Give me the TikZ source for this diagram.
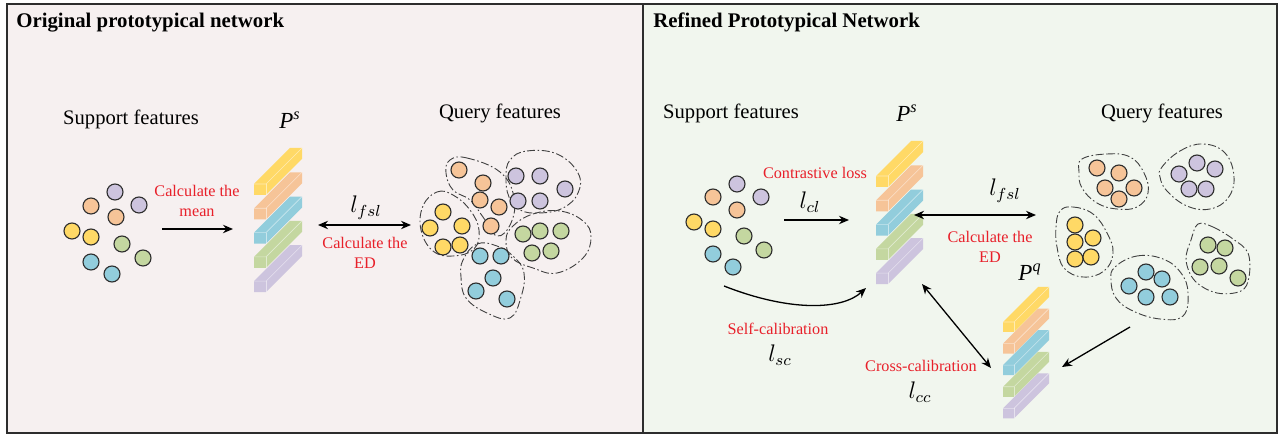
\documentclass[tikz,border=0pt]{standalone}
\usepackage{fontspec}
\setmainfont{Liberation Serif}
\usetikzlibrary{arrows.meta}
\definecolor{cyel}{RGB}{255,217,102}
\definecolor{cora}{RGB}{246,196,152}
\definecolor{cpur}{RGB}{205,196,222}
\definecolor{cgrn}{RGB}{196,215,160}
\definecolor{cblu}{RGB}{146,205,220}
\definecolor{pleft}{RGB}{246,240,240}
\definecolor{pright}{RGB}{241,246,238}
\definecolor{lblred}{RGB}{232,32,42}
\definecolor{edge}{RGB}{45,45,45}
\newcommand{\pbar}[6]{%
  \fill[#6] (#1,#2) -- ++(#5,-#5) -- ++(#3,0) -- ++(0,#4) -- ++(-#5,#5) -- ++(-#3,0) -- cycle;
  \draw[white,opacity=0.5,line width=0.3pt] (#1,#2) -- ++(#3,0) -- ++(#5,-#5);
  \draw[white,opacity=0.5,line width=0.3pt] (#1+#3,#2) -- ++(0,#4);
}
\begin{document}
\begin{tikzpicture}[x=0.5pt,y=-0.5pt,
  dot/.style={circle,draw=edge,line width=0.55pt,minimum size=8pt,inner sep=0pt},
  blob/.style={draw=black!75,line width=0.45pt,dash pattern=on 4pt off 1.3pt on 0.8pt off 1.3pt},
  lbl/.style={font=\fontsize{10.3}{12}\selectfont,inner sep=0pt},
  red/.style={text=lblred,font=\fontsize{8.1}{10}\selectfont,inner sep=0pt,align=center},
  ttl/.style={font=\fontsize{10.4}{12}\selectfont\bfseries,inner sep=0pt,anchor=base west},
  mlbl/.style={font=\fontsize{12}{14}\selectfont,inner sep=0pt},
  plbl/.style={font=\fontsize{11.5}{13}\selectfont\itshape,inner sep=0pt},
  arr/.style={line width=0.65pt,-{Stealth[length=5pt,width=4.2pt]}},
  darr/.style={line width=0.65pt,{Stealth[length=5pt,width=4.2pt]}-{Stealth[length=5pt,width=4.2pt]}}
]
\useasboundingbox (0,0) rectangle (1281,437);
% panels
\fill[pleft] (7,4) rectangle (643,433);
\fill[pright] (643,4) rectangle (1277,433);
\draw[edge,line width=0.75pt] (7,4) rectangle (643,433);
\draw[edge,line width=0.75pt] (643,4) rectangle (1277,433);
\node[ttl] (t1) at (16,28) {Original prototypical network};
\node[ttl] (t2) at (653,28) {Refined Prototypical Network};

%%%%%%%%%% LEFT PANEL
\node[lbl] (lsf) at (131,119) {Support features};
\node[plbl] (lps) at (290,120) {P\textsuperscript{s}};
\node[lbl] (lqf) at (500,113) {Query features};
\foreach \x/\y/\c [count=\i] in {115/192/cpur,91/206/cora,139/205/cpur,116/217/cora,72/231/cyel,91/237/cyel,122/244/cgrn,143/258/cgrn,91/262/cblu,112/274/cblu}
  \node[dot,fill=\c] (ls\i) at (\x,\y) {};
\coordinate (la1) at (162,229);
\coordinate (la2) at (233,229);
\draw[arr] (la1) -- (la2);
\node[red] (lmean) at (197,201) {Calculate the\\mean};
% bars
\foreach \c [count=\i from 0, evaluate=\i as \yy using 184+24.3*\i] in {cyel,cora,cblu,cgrn,cpur}
  {\pbar{254}{\yy}{12}{11}{36}{\c}}
\coordinate (lb1) at (318,225);
\coordinate (lb2) at (411,225);
\draw[darr] (lb1) -- (lb2);
\node[mlbl] (llfsl) at (366,208) {$l_{fsl}$};
\node[red] (led) at (365,253) {Calculate the\\ED};
% query blobs
\draw[blob] plot[smooth cycle,tension=0.7] coordinates {(450,160)(467,158)(500,172)(514,197)(511,223)(497,236)(483,217)(470,200)(453,190)(446,173)};
\draw[blob] plot[smooth cycle,tension=0.7] coordinates {(510,160)(527,151)(557,154)(578,173)(578,193)(563,208)(540,213)(520,210)(509,197)(506,177)};
\draw[blob] plot[smooth cycle,tension=0.7] coordinates {(423,206)(437,192)(453,195)(470,210)(479,230)(474,249)(453,256)(433,251)(421,230)};
\draw[blob] plot[smooth cycle,tension=0.7] coordinates {(513,226)(533,214)(560,211)(583,221)(591,237)(583,258)(557,273)(533,268)(512,258)(506,240)};
\draw[blob] plot[smooth cycle,tension=0.7] coordinates {(463,260)(477,244)(497,246)(514,257)(524,273)(521,297)(510,318)(487,313)(466,298)(461,277)};
\foreach \x/\y/\c [count=\i] in {459/170/cora,483/183/cora,480/200/cora,499/207/cora,491/226/cora,
  516/176/cpur,540/176/cpur,565/189/cpur,518/201/cpur,540/201/cpur,
  443/212/cyel,430/228/cyel,462/226/cyel,443/247/cyel,460/245/cyel,
  523/234/cgrn,540/231/cgrn,561/231/cgrn,532/253/cgrn,551/251/cgrn,
  480/256/cblu,501/256/cblu,493/278/cblu,476/291/cblu,507/299/cblu}
  \node[dot,fill=\c] (lq\i) at (\x,\y) {};

%%%%%%%%%% RIGHT PANEL
\node[lbl] (rsf) at (731,113) {Support features};
\node[plbl] (rps) at (907,113) {P\textsuperscript{s}};
\node[lbl] (rqf) at (1162,113) {Query features};
\foreach \x/\y/\c [count=\i] in {737/184/cpur,713/197/cora,761/197/cpur,737/210/cora,694/222/cyel,713/229/cyel,744/236/cgrn,764/250/cgrn,713/254/cblu,733/267/cblu}
  \node[dot,fill=\c] (rs\i) at (\x,\y) {};
\node[red] (rcl) at (815,173) {Contrastive loss};
\node[mlbl] (rlcl) at (810,202) {$l_{cl}$};
\coordinate (ra1) at (784,220);
\coordinate (ra2) at (849,220);
\draw[arr] (ra1) -- (ra2);
\foreach \c [count=\i from 0, evaluate=\i as \yy using 176+24.3*\i] in {cyel,cora,cblu,cgrn,cpur}
  {\pbar{876}{\yy}{12}{11}{35}{\c}}
% fsl arrow
\coordinate (rb1) at (914,215);
\coordinate (rb2) at (1036,215);
\draw[darr] (rb1) -- (rb2);
\node[mlbl] (rlfsl) at (1005,191) {$l_{fsl}$};
\node[red] (red) at (990,247) {Calculate the\\ED};
% P^q
\node[plbl] (rpq) at (1030,272) {P\textsuperscript{q}};
\foreach \c [count=\i from 0, evaluate=\i as \yy using 322+21.6*\i] in {cyel,cora,cblu,cgrn,cpur}
  {\pbar{1003}{\yy}{11}{10}{35}{\c}}
% self-calibration
\coordinate (rc1) at (724,286);
\coordinate (rc2) at (866,288);
\draw[arr] (rc1) .. controls (790,312) and (842,310) .. (rc2);
\node[red] (rsc) at (778,329) {Self-calibration};
\node[mlbl] (rlsc) at (780,355) {$l_{sc}$};
% cross-calibration
\coordinate (rd1) at (922,284);
\coordinate (rd2) at (991,368);
\draw[darr] (rd1) -- (rd2);
\node[red] (rcc) at (921,366) {Cross-calibration};
\node[mlbl] (rlcc) at (920,392) {$l_{cc}$};
% query -> P^q
\coordinate (re1) at (1130,327);
\coordinate (re2) at (1062,367);
\draw[arr] (re1) -- (re2);
% right query blobs
\draw[blob] plot[smooth cycle,tension=0.7] coordinates {(1082,159)(1107,154)(1130,157)(1144,173)(1148,193)(1137,207)(1117,209)(1097,203)(1082,188)(1079,172)};
\draw[blob] plot[smooth cycle,tension=0.7] coordinates {(1162,167)(1180,151)(1203,144)(1225,153)(1234,177)(1228,198)(1210,209)(1187,206)(1167,191)(1160,177)};
\draw[blob] plot[smooth cycle,tension=0.7] coordinates {(1060,211)(1073,207)(1093,214)(1107,233)(1113,253)(1104,271)(1083,277)(1064,268)(1057,247)(1056,227)};
\draw[blob] plot[smooth cycle,tension=0.7] coordinates {(1115,267)(1137,256)(1163,259)(1181,273)(1188,293)(1183,316)(1160,319)(1133,311)(1116,298)(1111,280)};
\draw[blob] plot[smooth cycle,tension=0.6] coordinates {(1198,224)(1213,227)(1233,239)(1248,253)(1249,277)(1241,291)(1217,293)(1195,281)(1186,260)(1191,240)};
\foreach \x/\y/\c [count=\i] in {1097/168/cora,1119/173/cora,1105/188/cora,1134/188/cora,1119/199/cora,
  1197/163/cpur,1215/169/cpur,1179/174/cpur,1189/189/cpur,1206/189/cpur,
  1075/225/cyel,1075/242/cyel,1093/238/cyel,1075/259/cyel,1091/257/cyel,
  1146/272/cblu,1162/279/cblu,1129/286/cblu,1146/297/cblu,1170/297/cblu,
  1208/245/cgrn,1225/248/cgrn,1200/267/cgrn,1219/266/cgrn,1238/278/cgrn}
  \node[dot,fill=\c] (rq\i) at (\x,\y) {};
\end{tikzpicture}
\end{document}
